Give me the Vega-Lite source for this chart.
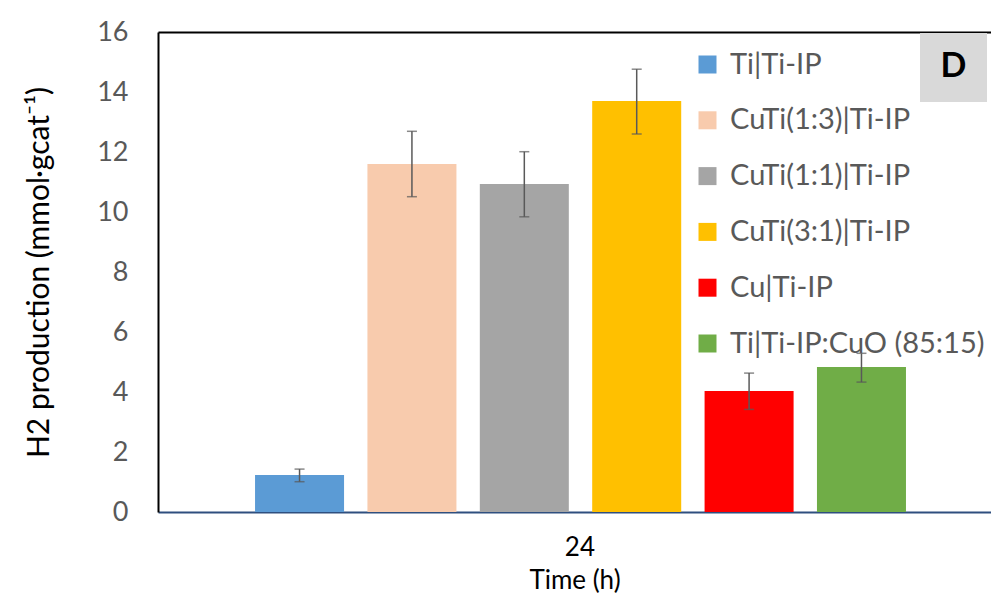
{
  "$schema": "https://vega.github.io/schema/vega-lite/v6.json",
  "width": 833,
  "height": 480,
  "autosize": {"type": "none"},
  "padding": {"left": 158, "top": 32, "right": 0, "bottom": 84},
  "background": "white",
  "config": {"view": {"stroke": null}, "font": "Lato"},
  "data": {
    "values": [
      {"series": "Ti|Ti-IP", "value": 1.23, "lo": 1.01, "hi": 1.43},
      {"series": "CuTi(1:3)|Ti-IP", "value": 11.6, "lo": 10.51, "hi": 12.69},
      {"series": "CuTi(1:1)|Ti-IP", "value": 10.93, "lo": 9.84, "hi": 12.01},
      {"series": "CuTi(3:1)|Ti-IP", "value": 13.7, "lo": 12.6, "hi": 14.76},
      {"series": "Cu|Ti-IP", "value": 4.03, "lo": 3.42, "hi": 4.63},
      {"series": "Ti|Ti-IP:CuO (85:15)", "value": 4.83, "lo": 4.33, "hi": 5.29}
    ]
  },
  "layer": [
    {
      "layer": [
        {
          "mark": {"type": "bar"},
          "encoding": {
            "x": {
              "field": "series", "type": "nominal", "sort": null,
              "scale": {
                "type": "band",
                "domain": ["Ti|Ti-IP", "CuTi(1:3)|Ti-IP", "CuTi(1:1)|Ti-IP", "CuTi(3:1)|Ti-IP", "Cu|Ti-IP", "Ti|Ti-IP:CuO (85:15)"],
                "paddingInner": 0.208, "paddingOuter": 0.81, "align": 0.533
              },
              "axis": {"orient": "top", "labels": false, "ticks": false, "title": null, "domainColor": "#000000", "domainWidth": 2}
            },
            "y": {
              "field": "value", "type": "quantitative",
              "scale": {"domain": [0, 16], "nice": false},
              "axis": {
                "values": [0, 2, 4, 6, 8, 10, 12, 14, 16],
                "grid": false, "ticks": false,
                "domainColor": "#000000", "domainWidth": 2,
                "labelFontSize": 27, "labelColor": "#595959", "labelPadding": 30,
                "title": "H2 production (mmol·gcat⁻¹)",
                "titleFontSize": 30, "titleFontWeight": "normal", "titleColor": "#000000", "titlePadding": 42
              }
            },
            "color": {
              "field": "series", "type": "nominal", "sort": null,
              "scale": {
                "domain": ["Ti|Ti-IP", "CuTi(1:3)|Ti-IP", "CuTi(1:1)|Ti-IP", "CuTi(3:1)|Ti-IP", "Cu|Ti-IP", "Ti|Ti-IP:CuO (85:15)"],
                "range": ["#5B9BD5", "#F8CBAD", "#A5A5A5", "#FFC000", "#FF0000", "#70AD47"]
              },
              "legend": {
                "orient": "none", "legendX": 535, "legendY": 18, "title": null,
                "padding": 0,
                "symbolType": "square", "symbolSize": 324, "symbolStrokeWidth": 0,
                "labelFontSize": 29, "labelColor": "#595959", "labelOffset": 8,
                "rowPadding": 25.8, "labelLimit": 400
              }
            }
          }
        },
        {
          "mark": {"type": "rule", "color": "#595959", "strokeWidth": 1.5},
          "encoding": {
            "x": {"field": "series", "type": "nominal", "sort": null},
            "y": {"field": "lo", "type": "quantitative"},
            "y2": {"field": "hi"}
          }
        },
        {
          "mark": {"type": "tick", "color": "#595959", "thickness": 1.5, "size": 10},
          "encoding": {
            "x": {"field": "series", "type": "nominal", "sort": null},
            "y": {"field": "lo", "type": "quantitative"}
          }
        },
        {
          "mark": {"type": "tick", "color": "#595959", "thickness": 1.5, "size": 10},
          "encoding": {
            "x": {"field": "series", "type": "nominal", "sort": null},
            "y": {"field": "hi", "type": "quantitative"}
          }
        }
      ]
    },
    {
      "data": {"values": [{"time": "24"}]},
      "mark": {"type": "point", "opacity": 0},
      "encoding": {
        "x": {
          "field": "time", "type": "nominal",
          "scale": {"type": "band", "paddingOuter": 0.5, "align": 0.513},
          "axis": {
            "orient": "bottom", "ticks": false, "labelAngle": 0,
            "domainColor": "#2F4F7F", "domainWidth": 2,
            "labelFontSize": 26, "labelColor": "#000000", "labelPadding": 22,
            "title": "Time (h)", "titleFontSize": 26, "titleFontWeight": "normal", "titleColor": "#000000", "titlePadding": 7
          }
        }
      }
    },
    {
      "data": {"values": [{"label": "D"}]},
      "mark": {"type": "rect", "color": "#D9D9D9"},
      "encoding": {
        "x": {"value": 762},
        "x2": {"value": 829},
        "y": {"datum": 15.97},
        "y2": {"datum": 13.67}
      }
    },
    {
      "data": {"values": [{"label": "D"}]},
      "mark": {"type": "text", "fontSize": 34, "fontWeight": "bold", "color": "#000000", "align": "center", "baseline": "middle", "font": "Lato"},
      "encoding": {
        "x": {"value": 795.5},
        "y": {"datum": 14.82},
        "text": {"field": "label"}
      }
    }
  ],
  "resolve": {"scale": {"x": "independent"}}
}
